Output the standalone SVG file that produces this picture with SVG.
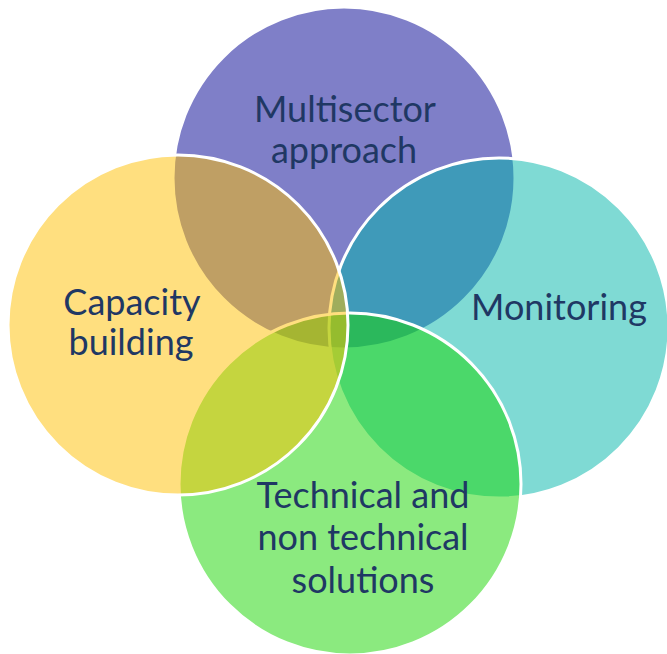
<svg xmlns="http://www.w3.org/2000/svg" width="667" height="654" viewBox="0 0 667 654">
<style>
.c{stroke:#ffffff;stroke-width:3}
.p{fill:#7f7fc8}
.cy{fill:#00b6aa;fill-opacity:0.5}
.g{fill:#18d600;fill-opacity:0.5}
.y{fill:#ffc000;fill-opacity:0.5}
.t{font-family:Lato,"Liberation Sans",sans-serif;font-size:36px;fill:#1f3864;text-anchor:middle}
</style>
<rect width="667" height="654" fill="#ffffff"/>
<g id="multisector">
<circle class="c p" cx="344" cy="178" r="171"/>
<text class="t" x="345" y="122">Multisector</text>
<text class="t" x="344" y="163">approach</text>
</g>
<g id="monitoring">
<circle class="c cy" cx="499" cy="328" r="170"/>
<text class="t" x="559" y="320">Monitoring</text>
</g>
<g id="technical">
<circle class="c g" cx="350" cy="484" r="171"/>
<text class="t" x="363" y="508">Technical and</text>
<text class="t" x="363" y="550">non technical</text>
<text class="t" x="363" y="593">solutions</text>
</g>
<g id="capacity">
<circle class="c y" cx="178" cy="325" r="170"/>
<text class="t" x="132" y="315">Capacity</text>
<text class="t" x="131" y="355">building</text>
</g>
<g id="connectors"></g>
</svg>
